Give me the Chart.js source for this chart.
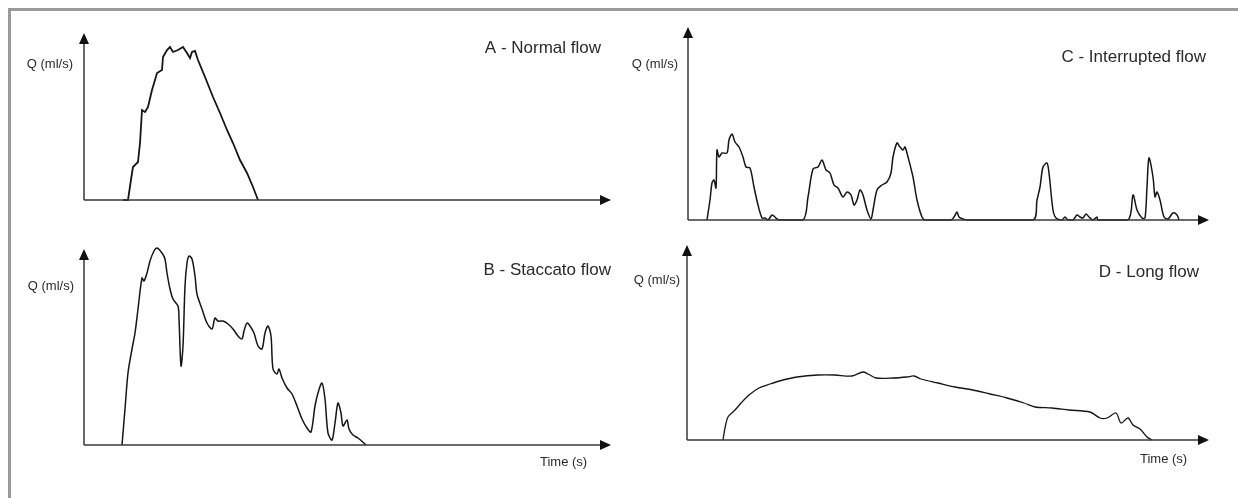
<!DOCTYPE html>
<html>
<head>
<meta charset="utf-8">
<script src="https://cdn.jsdelivr.net/npm/chart.js@4.4.1/dist/chart.umd.min.js"></script>
<style>
  html, body { margin: 0; padding: 0; background: #fff; }
  body { width: 1238px; height: 498px; position: relative; overflow: hidden; }
  #frame {
    position: absolute; left: 8px; top: 8px; width: 1240px; height: 500px;
    border-top: 3px solid #9a9a9a; border-left: 3px solid #9a9a9a;
  }
  canvas { position: absolute; }
</style>
</head>
<body>
<div id="frame"></div>
<canvas id="flowA"></canvas>
<canvas id="flowB"></canvas>
<canvas id="flowC"></canvas>
<canvas id="flowD"></canvas>
<script>
// uroflow traces, time and flow measured from each panel's origin
const timeA = [39, 44, 48, 49, 54, 56, 58, 61, 64, 68, 71, 73, 78, 79, 83, 86, 89, 94, 99, 103, 106, 108, 111, 114, 121, 129, 136, 143, 149, 156, 163, 169, 174];
const flowA = [0, 0, 27, 33, 38, 57, 90, 88, 93, 110, 120, 127, 130, 143, 150, 153, 148, 150, 153, 147, 142, 148, 149, 140, 123, 103, 87, 70, 57, 40, 27, 13, 0];

const timeB = [38, 41, 44, 48, 51, 54, 58, 60, 63, 66, 70, 73, 78, 81, 83, 86, 89, 94, 95, 97, 99, 101, 103, 105, 108, 111, 113, 118, 123, 128, 131, 134, 139, 144, 149, 154, 158, 160, 163, 166, 170, 174, 178, 181, 184, 187, 189, 193, 195, 198, 203, 208, 213, 218, 223, 227, 231, 234, 238, 241, 244, 248, 251, 254, 257, 259, 263, 265, 269, 274, 282];
const flowB = [0, 36, 72, 96, 112, 136, 167, 164, 172, 184, 194, 197, 192, 186, 172, 156, 146, 139, 126, 79, 99, 159, 182, 189, 186, 169, 151, 136, 122, 116, 127, 124, 124, 121, 116, 109, 106, 114, 122, 119, 112, 99, 96, 112, 119, 109, 76, 71, 76, 67, 57, 51, 39, 26, 17, 13, 39, 52, 62, 46, 12, 5, 22, 42, 32, 19, 25, 16, 10, 7, 0];

const timeC = [19, 22, 24, 26, 28, 29, 31, 34, 39, 41, 44, 47, 51, 55, 58, 62, 66, 70, 74, 77, 80, 84, 87, 89, 92, 115, 120, 125, 130, 134, 138, 142, 146, 150, 155, 159, 163, 166, 169, 172, 175, 179, 183, 185, 189, 194, 199, 203, 205, 209, 212, 215, 217, 220, 225, 229, 234, 237, 263, 266, 269, 271, 275, 279, 345, 349, 352, 355, 359, 361, 365, 368, 374, 377, 380, 385, 389, 392, 395, 398, 401, 405, 409, 410, 440, 445, 449, 454, 457, 459, 461, 465, 467, 469, 472, 476, 480, 485, 489, 491];
const flowC = [0, 20, 37, 40, 32, 70, 63, 67, 67, 80, 86, 78, 73, 63, 53, 52, 33, 15, 2, 2, 0, 5, 3, 1, 0, 0, 23, 51, 53, 60, 50, 47, 35, 32, 23, 28, 25, 15, 20, 30, 25, 10, 1, 10, 30, 35, 38, 47, 63, 77, 73, 70, 73, 63, 43, 20, 3, 0, 0, 3, 8, 3, 1, 0, 0, 20, 33, 53, 57, 47, 10, 2, 0, 3, 0, 0, 5, 3, 2, 6, 3, 0, 3, 0, 0, 25, 10, 2, 2, 33, 62, 43, 23, 28, 20, 3, 1, 7, 5, 0];

const timeD = [36, 38, 41, 48, 55, 62, 72, 83, 96, 110, 131, 148, 165, 176, 181, 189, 206, 220, 227, 234, 251, 268, 286, 303, 320, 337, 348, 365, 382, 403, 413, 420, 429, 434, 441, 446, 453, 460, 465];
const flowD = [0, 12, 23, 30, 38, 45, 52, 56, 60, 63, 65, 65, 64, 68, 66, 62, 62, 63, 64, 61, 57, 53, 50, 46, 42, 37, 33, 32, 30, 28, 22, 22, 27, 17, 22, 15, 11, 3, 0];

const panelTitles = ['A - Normal flow', 'B - Staccato flow', 'C - Interrupted flow', 'D - Long flow'];
const yAxisLabel = 'Q (ml/s)';
const xAxisLabel = 'Time (s)';

const FONT = '"Liberation Sans", Arial, Helvetica, sans-serif';
const INK = '#2a2a2a';

// draws the arrowed axes and the text of one panel
const flowAxes = {
  id: 'flowAxes',
  afterDraw(chart, args, opts) {
    const { ctx, chartArea } = chart;
    const { left, right, top, bottom } = chartArea;
    const off = opts.box;
    ctx.save();
    ctx.strokeStyle = '#3a3a3a';
    ctx.fillStyle = '#111';
    ctx.lineWidth = 1.5;
    ctx.beginPath();
    ctx.moveTo(left, bottom);
    ctx.lineTo(left, top + 8);
    ctx.moveTo(left, bottom);
    ctx.lineTo(right - 8, bottom);
    ctx.stroke();
    // arrow heads
    ctx.beginPath();
    ctx.moveTo(left, top);
    ctx.lineTo(left - 5, top + 11);
    ctx.lineTo(left + 5, top + 11);
    ctx.closePath();
    ctx.fill();
    ctx.beginPath();
    ctx.moveTo(right, bottom);
    ctx.lineTo(right - 11, bottom - 5);
    ctx.lineTo(right - 11, bottom + 5);
    ctx.closePath();
    ctx.fill();

    ctx.fillStyle = INK;
    ctx.textBaseline = 'middle';
    ctx.font = '13px ' + FONT;
    ctx.textAlign = 'right';
    ctx.fillText(yAxisLabel, opts.qRight - off.left, opts.qY - off.top);
    if (opts.timeY) {
      ctx.textAlign = 'left';
      ctx.fillText(xAxisLabel, opts.timeLeft - off.left, opts.timeY - off.top);
    }
    ctx.font = '17px ' + FONT;
    ctx.textAlign = 'right';
    ctx.fillText(opts.title, opts.titleRight - off.left, opts.titleY - off.top);
    ctx.restore();
  }
};

function makePanel(id, box, axis, times, flows, labels, lineWidth, tension) {
  const canvas = document.getElementById(id);
  canvas.width = box.width;
  canvas.height = box.height;
  canvas.style.left = box.left + 'px';
  canvas.style.top = box.top + 'px';
  const points = times.map((t, i) => ({ x: t, y: flows[i] }));
  return new Chart(canvas.getContext('2d'), {
    type: 'line',
    data: {
      datasets: [{
        data: points,
        borderColor: '#151515',
        borderWidth: lineWidth,
        pointRadius: 0,
        tension: tension,
        fill: false,
        clip: false
      }]
    },
    options: {
      responsive: false,
      animation: false,
      layout: {
        padding: {
          left: axis.x0 - box.left,
          top: axis.top - box.top,
          right: box.left + box.width - axis.right,
          bottom: box.top + box.height - axis.y0
        }
      },
      scales: {
        x: { type: 'linear', display: false, min: 0, max: axis.right - axis.x0 },
        y: { display: false, min: 0, max: axis.y0 - axis.top }
      },
      plugins: {
        legend: { display: false },
        tooltip: { enabled: false },
        flowAxes: Object.assign({ box: box }, labels)
      }
    },
    plugins: [flowAxes]
  });
}

makePanel('flowA',
  { left: 12, top: 12, width: 606, height: 218 },
  { x0: 84, y0: 200, top: 33, right: 611 },
  timeA, flowA,
  { title: panelTitles[0], titleRight: 601, titleY: 48, qRight: 73, qY: 64 },
  1.8, 0);

makePanel('flowB',
  { left: 12, top: 236, width: 606, height: 250 },
  { x0: 84, y0: 445, top: 249, right: 611 },
  timeB, flowB,
  { title: panelTitles[1], titleRight: 611, titleY: 270, qRight: 74, qY: 286, timeLeft: 540, timeY: 462 },
  1.5, 0.3);

makePanel('flowC',
  { left: 622, top: 12, width: 610, height: 222 },
  { x0: 688, y0: 220, top: 27, right: 1209 },
  timeC, flowC,
  { title: panelTitles[2], titleRight: 1206, titleY: 57, qRight: 678, qY: 64 },
  1.5, 0.3);

makePanel('flowD',
  { left: 622, top: 236, width: 610, height: 250 },
  { x0: 687, y0: 440, top: 245, right: 1209 },
  timeD, flowD,
  { title: panelTitles[3], titleRight: 1199, titleY: 272, qRight: 680, qY: 280, timeLeft: 1140, timeY: 459 },
  1.3, 0.3);
</script>
</body>
</html>
